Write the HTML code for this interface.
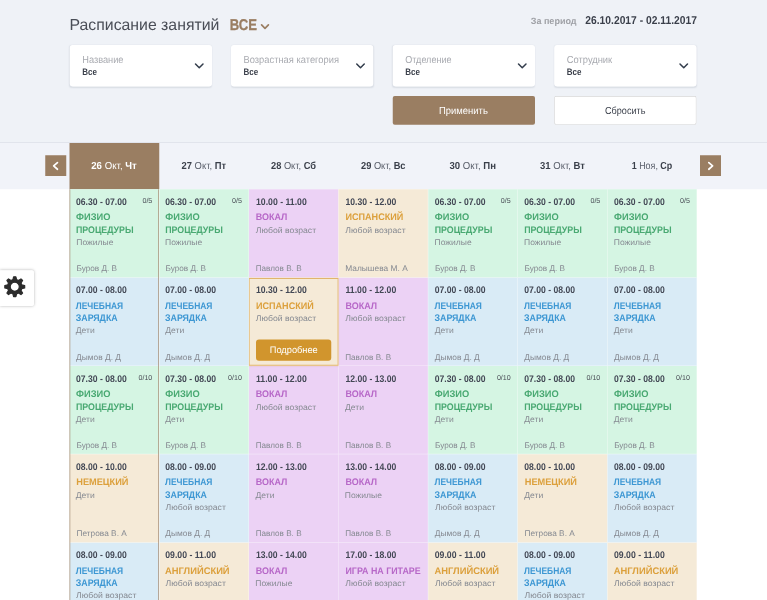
<!DOCTYPE html>
<html lang="ru"><head><meta charset="utf-8"><title>Расписание занятий</title>
<style>
html,body{margin:0;padding:0;width:767px;height:600px;overflow:hidden;background:#fff}
#wrap{position:absolute;left:0;top:0;width:767px;height:600px;overflow:hidden}
*{box-sizing:border-box;margin:0;padding:0}
body{font-family:"Liberation Sans","DejaVu Sans",sans-serif;color:#3a3f4a;text-rendering:geometricPrecision}
#page{position:relative;width:3068px;height:2400px;overflow:hidden;background:#fff}
.x{position:absolute;white-space:nowrap;transform-origin:0 50%;display:block}
.top{position:absolute;left:0;top:0;width:3068px;height:568.8px;background:#eff2f7}
.hline{position:absolute;left:0;top:568.8px;width:3068px;height:2.8px;background:#d9dde6}
.daysbar{position:absolute;left:0;top:571.6px;width:3068px;height:185.6px;background:#f1f3f9}
.title{color:#4a4e57}
.all{font-weight:700;color:#9a7e62;-webkit-text-stroke:1.2px #9a7e62}
.allarr{position:absolute;left:1040px;top:93.2px;width:40px;height:32px}
.perlab{font-weight:700;color:#9fa1a6}
.perval{font-weight:700;color:#3a3f4a}
.sel{position:absolute;top:180px;width:569.2px;height:165.6px;background:#fff;border-radius:12px;box-shadow:0 2.4px 6px rgba(60,70,100,.12)}
.sl{color:#a8aab0}
.sv{font-weight:700;color:#3a3f4a}
.sa{position:absolute;left:495.2px;top:69.2px;width:48px;height:32px}
.btn{position:absolute;top:383.6px;width:569.2px;height:115.4px;border-radius:8px}
.apply{left:1571px;background:#9a7e62;color:#fff}
.reset{left:2217.2px;background:#fff;box-shadow:inset 0 0 0 2.4px #c4c4c4;color:#3a3f4a}
.nav{position:absolute;top:620.6px;width:84px;height:83.6px;background:#9a7e62}
.prev{left:181.2px}.next{left:2800px}
.nav svg{display:block;width:84px;height:84px}
.day{position:absolute;top:571.6px;height:185.6px}
.day.act{background:#9a7e62;margin-left:-0.8px;padding-right:1.6px}
.dt{color:#5b606c}
.dt b{font-weight:700;color:#3a3f4a}
.da,.da b{color:#fff}
.c{position:absolute;width:358.4px;height:353.36px}
.c:after{content:"";position:absolute;left:0;top:0;right:0;bottom:0;border-right:2px solid rgba(255,255,255,.6);border-bottom:2px solid rgba(255,255,255,.6)}
.c.g{background:#d5f5e3}.c.b{background:#d9ebf6}.c.p{background:#ecd2f5}.c.o{background:#f5ead7}
.t{font-weight:700;color:#434855}
.n{position:absolute;right:28.4px;top:28.8px;font-size:28.4px;line-height:36px;color:#4a4e57;white-space:nowrap}
.nm{font-weight:700}
.g .nm{color:#49a972}.b .nm{color:#3d97d3}.p .nm{color:#b768c8}.o .nm{color:#dca03c}
.ag,.w{color:#858991}
.hov:before{content:"";position:absolute;left:-1.2px;top:1.6px;right:0.8px;bottom:1.2px;box-shadow:inset 0 0 0 3.6px #e2b56c,0 0 6px rgba(200,140,40,.35);z-index:2}
.more{position:absolute;left:28px;top:247.6px;width:301.4px;height:84.8px;background:#d1952d;border-radius:12px;color:#fff}
.actl{position:absolute;left:278.2px;top:757.2px;width:3px;height:1644px;background:#a8917a}
.actr{position:absolute;left:632.8px;top:757.2px;width:3px;height:1644px;background:#a8917a}
.gear{position:absolute;left:0;top:1080.8px;width:136px;height:142.8px;background:#fff;border-radius:0 8px 8px 0;box-shadow:0 0 12px rgba(0,0,0,.3)}
.gear svg{position:absolute;left:10.8px;top:18.6px;width:96px;height:96px}

#page{transform:scale(0.25);transform-origin:0 0}
</style></head>
<body>
<div id="wrap"><div id="page">
<div class="top"></div>
<div class="hline"></div>
<div class="daysbar"></div>
<span class="x title" style="left:278.4px;top:58.248px;font-size:63.6px;line-height:82.8px;transform:scaleX(0.995);">Расписание занятий</span>
<span class="x all" style="left:919px;top:59.248px;font-size:62.4px;line-height:81.2px;transform:scaleX(0.838);">ВСЕ</span>
<svg class="allarr" viewBox="0 0 10 8"><polyline points="1.6,1.7 5,5.1 8.4,1.7" fill="none" stroke="#9a7e62" stroke-width="1.7" stroke-linecap="round" stroke-linejoin="round"/></svg>
<span class="x perlab" style="left:2122.6px;top:60.248px;font-size:36.4px;line-height:47.2px;transform:scaleX(0.991);">За период</span>
<span class="x perval" style="left:2340.6px;top:51.248px;font-size:45.6px;line-height:59.2px;transform:scaleX(0.904);">26.10.2017 - 02.11.2017</span>
<div class="sel" style="left:279px"><span class="x sl" style="left:49.6px;top:32.248px;font-size:40.8px;line-height:53.2px;transform:scaleX(0.905);">Название</span><span class="x sv" style="left:49.6px;top:84.248px;font-size:38px;line-height:49.2px;transform:scaleX(0.838);">Все</span><svg class="sa" viewBox="0 0 12 8"><polyline points="2,1.8 5.75,5.55 9.5,1.8" fill="none" stroke="#333d4c" stroke-width="1.5" stroke-linecap="round" stroke-linejoin="round"/></svg></div>
<div class="sel" style="left:924px"><span class="x sl" style="left:49.6px;top:32.248px;font-size:40.8px;line-height:53.2px;transform:scaleX(0.916);">Возрастная категория</span><span class="x sv" style="left:49.6px;top:84.248px;font-size:38px;line-height:49.2px;transform:scaleX(0.838);">Все</span><svg class="sa" viewBox="0 0 12 8"><polyline points="2,1.8 5.75,5.55 9.5,1.8" fill="none" stroke="#333d4c" stroke-width="1.5" stroke-linecap="round" stroke-linejoin="round"/></svg></div>
<div class="sel" style="left:1571px"><span class="x sl" style="left:49.6px;top:32.248px;font-size:40.8px;line-height:53.2px;transform:scaleX(0.886);">Отделение</span><span class="x sv" style="left:49.6px;top:84.248px;font-size:38px;line-height:49.2px;transform:scaleX(0.838);">Все</span><svg class="sa" viewBox="0 0 12 8"><polyline points="2,1.8 5.75,5.55 9.5,1.8" fill="none" stroke="#333d4c" stroke-width="1.5" stroke-linecap="round" stroke-linejoin="round"/></svg></div>
<div class="sel" style="left:2217.2px"><span class="x sl" style="left:49.6px;top:32.248px;font-size:40.8px;line-height:53.2px;transform:scaleX(0.917);">Сотрудник</span><span class="x sv" style="left:49.6px;top:84.248px;font-size:38px;line-height:49.2px;transform:scaleX(0.838);">Все</span><svg class="sa" viewBox="0 0 12 8"><polyline points="2,1.8 5.75,5.55 9.5,1.8" fill="none" stroke="#333d4c" stroke-width="1.5" stroke-linecap="round" stroke-linejoin="round"/></svg></div>
<div class="btn apply"><span class="x bt" style="left:185.4px;top:32.648px;font-size:40.8px;line-height:53.2px;transform:scaleX(0.926);">Применить</span></div>
<div class="btn reset"><span class="x bt" style="left:203.2px;top:32.648px;font-size:40.8px;line-height:53.2px;transform:scaleX(0.891);">Сбросить</span></div>
<div class="nav prev"><svg viewBox="0 0 21 21"><polyline points="12.2,7.4 8.4,10.7 12.2,14" fill="none" stroke="#fff" stroke-width="1.7" stroke-linecap="round" stroke-linejoin="round"/></svg></div>
<div class="nav next"><svg viewBox="0 0 21 21"><polyline points="8.8,7.4 12.6,10.7 8.8,14" fill="none" stroke="#fff" stroke-width="1.7" stroke-linecap="round" stroke-linejoin="round"/></svg></div>
<div class="day act" style="left:279.2px;width:358.4px"></div><span class="x dt da" style="left:365px;top:636.25px;font-size:40.8px;line-height:53.2px;transform:scaleX(0.947)"><b>26</b> Окт, <b>Чт</b></span>
<div class="day" style="left:637.6px;width:358.4px"></div><span class="x dt" style="left:726px;top:636.25px;font-size:40.8px;line-height:53.2px;transform:scaleX(0.923)"><b>27</b> Окт, <b>Пт</b></span>
<div class="day" style="left:996px;width:358.4px"></div><span class="x dt" style="left:1084px;top:636.25px;font-size:40.8px;line-height:53.2px;transform:scaleX(0.910)"><b>28</b> Окт, <b>Сб</b></span>
<div class="day" style="left:1354.4px;width:358.4px"></div><span class="x dt" style="left:1443.8px;top:636.25px;font-size:40.8px;line-height:53.2px;transform:scaleX(0.909)"><b>29</b> Окт, <b>Вс</b></span>
<div class="day" style="left:1712.8px;width:358.4px"></div><span class="x dt" style="left:1798.2px;top:636.25px;font-size:40.8px;line-height:53.2px;transform:scaleX(0.941)"><b>30</b> Окт, <b>Пн</b></span>
<div class="day" style="left:2071.2px;width:358.4px"></div><span class="x dt" style="left:2159.6px;top:636.25px;font-size:40.8px;line-height:53.2px;transform:scaleX(0.935)"><b>31</b> Окт, <b>Вт</b></span>
<div class="day" style="left:2429.6px;width:358.4px"></div><span class="x dt" style="left:2527px;top:636.25px;font-size:40.8px;line-height:53.2px;transform:scaleX(0.874)"><b>1</b> Ноя, <b>Ср</b></span>
<div class="grid">
<div class="c g" style="left:279.2px;top:757.2px"><span class="x t" style="left:24.6px;top:26.048px;font-size:38.4px;line-height:50px;transform:scaleX(0.898);">06.30 - 07.00</span><span class="n">0/5</span><span class="x nm" style="left:24.4px;top:86.048px;font-size:38.4px;line-height:50px;transform:scaleX(0.970);">ФИЗИО</span><span class="x nm" style="left:24.4px;top:138.05px;font-size:38.4px;line-height:50px;transform:scaleX(0.917);">ПРОЦЕДУРЫ</span><span class="x ag" style="left:26.2px;top:191.05px;font-size:32.8px;line-height:42.8px;transform:scaleX(1.044);">Пожилые</span><span class="x w" style="left:26.6px;top:295.05px;font-size:32.8px;line-height:42.8px;">Буров Д. В</span></div>
<div class="c b" style="left:279.2px;top:1110.6px"><span class="x t" style="left:24.6px;top:24.692px;font-size:38.4px;line-height:50px;transform:scaleX(0.898);">07.00 - 08.00</span><span class="x nm" style="left:23.6px;top:88.692px;font-size:38.4px;line-height:50px;transform:scaleX(0.879);">ЛЕЧЕБНАЯ</span><span class="x nm" style="left:23.6px;top:136.69px;font-size:38.4px;line-height:50px;transform:scaleX(0.918);">ЗАРЯДКА</span><span class="x ag" style="left:24.2px;top:189.69px;font-size:32.8px;line-height:42.8px;transform:scaleX(1.045);">Дети</span><span class="x w" style="left:24.6px;top:297.69px;font-size:32.8px;line-height:42.8px;transform:scaleX(1.024);">Дымов Д. Д</span></div>
<div class="c g" style="left:279.2px;top:1463.9px"><span class="x t" style="left:24.6px;top:27.328px;font-size:38.4px;line-height:50px;transform:scaleX(0.898);">07.30 - 08.00</span><span class="n">0/10</span><span class="x nm" style="left:24.4px;top:87.328px;font-size:38.4px;line-height:50px;transform:scaleX(0.970);">ФИЗИО</span><span class="x nm" style="left:24.4px;top:139.33px;font-size:38.4px;line-height:50px;transform:scaleX(0.917);">ПРОЦЕДУРЫ</span><span class="x ag" style="left:24.2px;top:192.33px;font-size:32.8px;line-height:42.8px;transform:scaleX(1.045);">Дети</span><span class="x w" style="left:26.6px;top:296.33px;font-size:32.8px;line-height:42.8px;">Буров Д. В</span></div>
<div class="c o" style="left:279.2px;top:1817.3px"><span class="x t" style="left:24.6px;top:25.972px;font-size:38.4px;line-height:50px;transform:scaleX(0.898);">08.00 - 10.00</span><span class="x nm" style="left:26px;top:85.972px;font-size:38.4px;line-height:50px;transform:scaleX(0.959);">НЕМЕЦКИЙ</span><span class="x ag" style="left:24.2px;top:142.97px;font-size:32.8px;line-height:42.8px;transform:scaleX(1.045);">Дети</span><span class="x w" style="left:26.6px;top:294.97px;font-size:32.8px;line-height:42.8px;transform:scaleX(1.013);">Петрова В. А</span></div>
<div class="c b" style="left:279.2px;top:2170.6px"><span class="x t" style="left:24.6px;top:24.608px;font-size:38.4px;line-height:50px;transform:scaleX(0.898);">08.00 - 09.00</span><span class="x nm" style="left:23.6px;top:88.608px;font-size:38.4px;line-height:50px;transform:scaleX(0.879);">ЛЕЧЕБНАЯ</span><span class="x nm" style="left:23.6px;top:136.61px;font-size:38.4px;line-height:50px;transform:scaleX(0.918);">ЗАРЯДКА</span><span class="x ag" style="left:25.2px;top:189.61px;font-size:32.8px;line-height:42.8px;transform:scaleX(1.058);">Любой возраст</span><span class="x w" style="left:24.6px;top:297.61px;font-size:32.8px;line-height:42.8px;transform:scaleX(1.024);">Дымов Д. Д</span></div>
<div class="c g" style="left:637.6px;top:757.2px"><span class="x t" style="left:23.8px;top:26.048px;font-size:38.4px;line-height:50px;transform:scaleX(0.898);">06.30 - 07.00</span><span class="n">0/5</span><span class="x nm" style="left:23.6px;top:86.048px;font-size:38.4px;line-height:50px;transform:scaleX(0.970);">ФИЗИО</span><span class="x nm" style="left:23.6px;top:138.05px;font-size:38.4px;line-height:50px;transform:scaleX(0.917);">ПРОЦЕДУРЫ</span><span class="x ag" style="left:22.6px;top:191.05px;font-size:32.8px;line-height:42.8px;transform:scaleX(1.044);">Пожилые</span><span class="x w" style="left:24.6px;top:295.05px;font-size:32.8px;line-height:42.8px;">Буров Д. В</span></div>
<div class="c b" style="left:637.6px;top:1110.6px"><span class="x t" style="left:23.8px;top:24.692px;font-size:38.4px;line-height:50px;transform:scaleX(0.898);">07.00 - 08.00</span><span class="x nm" style="left:22.8px;top:88.692px;font-size:38.4px;line-height:50px;transform:scaleX(0.879);">ЛЕЧЕБНАЯ</span><span class="x nm" style="left:22.8px;top:136.69px;font-size:38.4px;line-height:50px;transform:scaleX(0.918);">ЗАРЯДКА</span><span class="x ag" style="left:23.4px;top:189.69px;font-size:32.8px;line-height:42.8px;transform:scaleX(1.045);">Дети</span><span class="x w" style="left:23.8px;top:297.69px;font-size:32.8px;line-height:42.8px;transform:scaleX(1.024);">Дымов Д. Д</span></div>
<div class="c g" style="left:637.6px;top:1463.9px"><span class="x t" style="left:23.8px;top:27.328px;font-size:38.4px;line-height:50px;transform:scaleX(0.898);">07.30 - 08.00</span><span class="n">0/10</span><span class="x nm" style="left:23.6px;top:87.328px;font-size:38.4px;line-height:50px;transform:scaleX(0.970);">ФИЗИО</span><span class="x nm" style="left:23.6px;top:139.33px;font-size:38.4px;line-height:50px;transform:scaleX(0.917);">ПРОЦЕДУРЫ</span><span class="x ag" style="left:23.4px;top:192.33px;font-size:32.8px;line-height:42.8px;transform:scaleX(1.045);">Дети</span><span class="x w" style="left:24.6px;top:296.33px;font-size:32.8px;line-height:42.8px;">Буров Д. В</span></div>
<div class="c b" style="left:637.6px;top:1817.3px"><span class="x t" style="left:23.8px;top:25.972px;font-size:38.4px;line-height:50px;transform:scaleX(0.898);">08.00 - 09.00</span><span class="x nm" style="left:22.8px;top:85.972px;font-size:38.4px;line-height:50px;transform:scaleX(0.879);">ЛЕЧЕБНАЯ</span><span class="x nm" style="left:22.8px;top:137.97px;font-size:38.4px;line-height:50px;transform:scaleX(0.918);">ЗАРЯДКА</span><span class="x ag" style="left:24.4px;top:190.97px;font-size:32.8px;line-height:42.8px;transform:scaleX(1.058);">Любой возраст</span><span class="x w" style="left:23.8px;top:294.97px;font-size:32.8px;line-height:42.8px;transform:scaleX(1.024);">Дымов Д. Д</span></div>
<div class="c o" style="left:637.6px;top:2170.6px"><span class="x t" style="left:23.8px;top:24.608px;font-size:38.4px;line-height:50px;transform:scaleX(0.906);">09.00 - 11.00</span><span class="x nm" style="left:22.8px;top:88.608px;font-size:38.4px;line-height:50px;transform:scaleX(0.976);">АНГЛИЙСКИЙ</span><span class="x ag" style="left:24.4px;top:141.61px;font-size:32.8px;line-height:42.8px;transform:scaleX(1.058);">Любой возраст</span></div>
<div class="c p" style="left:996px;top:757.2px"><span class="x t" style="left:27.6px;top:26.048px;font-size:38.4px;line-height:50px;transform:scaleX(0.906);">10.00 - 11.00</span><span class="x nm" style="left:27.2px;top:86.048px;font-size:38.4px;line-height:50px;transform:scaleX(0.932);">ВОКАЛ</span><span class="x ag" style="left:26.8px;top:143.05px;font-size:32.8px;line-height:42.8px;transform:scaleX(1.058);">Любой возраст</span><span class="x w" style="left:27px;top:295.05px;font-size:32.8px;line-height:42.8px;transform:scaleX(0.992);">Павлов В. В</span></div>
<div class="c o hov" style="left:996px;top:1110.6px"><span class="x t" style="left:27.6px;top:24.692px;font-size:38.4px;line-height:50px;transform:scaleX(0.898);">10.30 - 12.00</span><span class="x nm" style="left:27.6px;top:88.692px;font-size:38.4px;line-height:50px;transform:scaleX(0.944);">ИСПАНСКИЙ</span><span class="x ag" style="left:26.8px;top:141.69px;font-size:32.8px;line-height:42.8px;transform:scaleX(1.058);">Любой возраст</span><span class="more"><span class="x bt" style="left:55.2px;top:17.092px;font-size:38.4px;line-height:50px;transform:scaleX(0.964);">Подробнее</span></span></div>
<div class="c p" style="left:996px;top:1463.9px"><span class="x t" style="left:27.6px;top:27.328px;font-size:38.4px;line-height:50px;transform:scaleX(0.906);">11.00 - 12.00</span><span class="x nm" style="left:27.2px;top:87.328px;font-size:38.4px;line-height:50px;transform:scaleX(0.932);">ВОКАЛ</span><span class="x ag" style="left:26.8px;top:144.33px;font-size:32.8px;line-height:42.8px;transform:scaleX(1.058);">Любой возраст</span><span class="x w" style="left:27px;top:296.33px;font-size:32.8px;line-height:42.8px;transform:scaleX(0.992);">Павлов В. В</span></div>
<div class="c p" style="left:996px;top:1817.3px"><span class="x t" style="left:27.6px;top:25.972px;font-size:38.4px;line-height:50px;transform:scaleX(0.898);">12.00 - 13.00</span><span class="x nm" style="left:27.2px;top:85.972px;font-size:38.4px;line-height:50px;transform:scaleX(0.932);">ВОКАЛ</span><span class="x ag" style="left:25.8px;top:142.97px;font-size:32.8px;line-height:42.8px;transform:scaleX(1.045);">Дети</span><span class="x w" style="left:27px;top:294.97px;font-size:32.8px;line-height:42.8px;transform:scaleX(0.992);">Павлов В. В</span></div>
<div class="c p" style="left:996px;top:2170.6px"><span class="x t" style="left:27.6px;top:24.608px;font-size:38.4px;line-height:50px;transform:scaleX(0.898);">13.00 - 14.00</span><span class="x nm" style="left:27.2px;top:88.608px;font-size:38.4px;line-height:50px;transform:scaleX(0.932);">ВОКАЛ</span><span class="x ag" style="left:25px;top:141.61px;font-size:32.8px;line-height:42.8px;transform:scaleX(1.044);">Пожилые</span><span class="x w" style="left:27px;top:297.61px;font-size:32.8px;line-height:42.8px;transform:scaleX(0.992);">Павлов В. В</span></div>
<div class="c o" style="left:1354.4px;top:757.2px"><span class="x t" style="left:27.6px;top:26.048px;font-size:38.4px;line-height:50px;transform:scaleX(0.898);">10.30 - 12.00</span><span class="x nm" style="left:27.6px;top:86.048px;font-size:38.4px;line-height:50px;transform:scaleX(0.944);">ИСПАНСКИЙ</span><span class="x ag" style="left:26.8px;top:143.05px;font-size:32.8px;line-height:42.8px;transform:scaleX(1.058);">Любой возраст</span><span class="x w" style="left:27px;top:295.05px;font-size:32.8px;line-height:42.8px;transform:scaleX(1.020);">Малышева М. А</span></div>
<div class="c p" style="left:1354.4px;top:1110.6px"><span class="x t" style="left:27.6px;top:24.692px;font-size:38.4px;line-height:50px;transform:scaleX(0.906);">11.00 - 12.00</span><span class="x nm" style="left:27.2px;top:88.692px;font-size:38.4px;line-height:50px;transform:scaleX(0.932);">ВОКАЛ</span><span class="x ag" style="left:26.8px;top:141.69px;font-size:32.8px;line-height:42.8px;transform:scaleX(1.058);">Любой возраст</span><span class="x w" style="left:27px;top:297.69px;font-size:32.8px;line-height:42.8px;transform:scaleX(0.992);">Павлов В. В</span></div>
<div class="c p" style="left:1354.4px;top:1463.9px"><span class="x t" style="left:27.6px;top:27.328px;font-size:38.4px;line-height:50px;transform:scaleX(0.898);">12.00 - 13.00</span><span class="x nm" style="left:27.2px;top:87.328px;font-size:38.4px;line-height:50px;transform:scaleX(0.932);">ВОКАЛ</span><span class="x ag" style="left:25.8px;top:144.33px;font-size:32.8px;line-height:42.8px;transform:scaleX(1.045);">Дети</span><span class="x w" style="left:27px;top:296.33px;font-size:32.8px;line-height:42.8px;transform:scaleX(0.992);">Павлов В. В</span></div>
<div class="c p" style="left:1354.4px;top:1817.3px"><span class="x t" style="left:27.6px;top:25.972px;font-size:38.4px;line-height:50px;transform:scaleX(0.898);">13.00 - 14.00</span><span class="x nm" style="left:27.2px;top:85.972px;font-size:38.4px;line-height:50px;transform:scaleX(0.932);">ВОКАЛ</span><span class="x ag" style="left:25px;top:142.97px;font-size:32.8px;line-height:42.8px;transform:scaleX(1.044);">Пожилые</span><span class="x w" style="left:27px;top:294.97px;font-size:32.8px;line-height:42.8px;transform:scaleX(0.992);">Павлов В. В</span></div>
<div class="c p" style="left:1354.4px;top:2170.6px"><span class="x t" style="left:27.6px;top:24.608px;font-size:38.4px;line-height:50px;transform:scaleX(0.898);">17.00 - 18.00</span><span class="x nm" style="left:27.6px;top:88.608px;font-size:38.4px;line-height:50px;transform:scaleX(0.924);">ИГРА НА ГИТАРЕ</span><span class="x ag" style="left:26.8px;top:141.61px;font-size:32.8px;line-height:42.8px;transform:scaleX(1.058);">Любой возраст</span></div>
<div class="c g" style="left:1712.8px;top:757.2px"><span class="x t" style="left:26.2px;top:26.048px;font-size:38.4px;line-height:50px;transform:scaleX(0.898);">06.30 - 07.00</span><span class="n">0/5</span><span class="x nm" style="left:26px;top:86.048px;font-size:38.4px;line-height:50px;transform:scaleX(0.970);">ФИЗИО</span><span class="x nm" style="left:26px;top:138.05px;font-size:38.4px;line-height:50px;transform:scaleX(0.917);">ПРОЦЕДУРЫ</span><span class="x ag" style="left:25px;top:191.05px;font-size:32.8px;line-height:42.8px;transform:scaleX(1.044);">Пожилые</span><span class="x w" style="left:27px;top:295.05px;font-size:32.8px;line-height:42.8px;">Буров Д. В</span></div>
<div class="c b" style="left:1712.8px;top:1110.6px"><span class="x t" style="left:26.2px;top:24.692px;font-size:38.4px;line-height:50px;transform:scaleX(0.898);">07.00 - 08.00</span><span class="x nm" style="left:25.2px;top:88.692px;font-size:38.4px;line-height:50px;transform:scaleX(0.879);">ЛЕЧЕБНАЯ</span><span class="x nm" style="left:25.2px;top:136.69px;font-size:38.4px;line-height:50px;transform:scaleX(0.918);">ЗАРЯДКА</span><span class="x ag" style="left:25.8px;top:189.69px;font-size:32.8px;line-height:42.8px;transform:scaleX(1.045);">Дети</span><span class="x w" style="left:26.2px;top:297.69px;font-size:32.8px;line-height:42.8px;transform:scaleX(1.024);">Дымов Д. Д</span></div>
<div class="c g" style="left:1712.8px;top:1463.9px"><span class="x t" style="left:26.2px;top:27.328px;font-size:38.4px;line-height:50px;transform:scaleX(0.898);">07.30 - 08.00</span><span class="n">0/10</span><span class="x nm" style="left:26px;top:87.328px;font-size:38.4px;line-height:50px;transform:scaleX(0.970);">ФИЗИО</span><span class="x nm" style="left:26px;top:139.33px;font-size:38.4px;line-height:50px;transform:scaleX(0.917);">ПРОЦЕДУРЫ</span><span class="x ag" style="left:25.8px;top:192.33px;font-size:32.8px;line-height:42.8px;transform:scaleX(1.045);">Дети</span><span class="x w" style="left:27px;top:296.33px;font-size:32.8px;line-height:42.8px;">Буров Д. В</span></div>
<div class="c b" style="left:1712.8px;top:1817.3px"><span class="x t" style="left:26.2px;top:25.972px;font-size:38.4px;line-height:50px;transform:scaleX(0.898);">08.00 - 09.00</span><span class="x nm" style="left:25.2px;top:85.972px;font-size:38.4px;line-height:50px;transform:scaleX(0.879);">ЛЕЧЕБНАЯ</span><span class="x nm" style="left:25.2px;top:137.97px;font-size:38.4px;line-height:50px;transform:scaleX(0.918);">ЗАРЯДКА</span><span class="x ag" style="left:26.8px;top:190.97px;font-size:32.8px;line-height:42.8px;transform:scaleX(1.058);">Любой возраст</span><span class="x w" style="left:26.2px;top:294.97px;font-size:32.8px;line-height:42.8px;transform:scaleX(1.024);">Дымов Д. Д</span></div>
<div class="c o" style="left:1712.8px;top:2170.6px"><span class="x t" style="left:26.2px;top:24.608px;font-size:38.4px;line-height:50px;transform:scaleX(0.906);">09.00 - 11.00</span><span class="x nm" style="left:25.2px;top:88.608px;font-size:38.4px;line-height:50px;transform:scaleX(0.976);">АНГЛИЙСКИЙ</span><span class="x ag" style="left:26.8px;top:141.61px;font-size:32.8px;line-height:42.8px;transform:scaleX(1.058);">Любой возраст</span></div>
<div class="c g" style="left:2071.2px;top:757.2px"><span class="x t" style="left:26.2px;top:26.048px;font-size:38.4px;line-height:50px;transform:scaleX(0.898);">06.30 - 07.00</span><span class="n">0/5</span><span class="x nm" style="left:26px;top:86.048px;font-size:38.4px;line-height:50px;transform:scaleX(0.970);">ФИЗИО</span><span class="x nm" style="left:26px;top:138.05px;font-size:38.4px;line-height:50px;transform:scaleX(0.917);">ПРОЦЕДУРЫ</span><span class="x ag" style="left:25px;top:191.05px;font-size:32.8px;line-height:42.8px;transform:scaleX(1.044);">Пожилые</span><span class="x w" style="left:27px;top:295.05px;font-size:32.8px;line-height:42.8px;">Буров Д. В</span></div>
<div class="c b" style="left:2071.2px;top:1110.6px"><span class="x t" style="left:26.2px;top:24.692px;font-size:38.4px;line-height:50px;transform:scaleX(0.898);">07.00 - 08.00</span><span class="x nm" style="left:25.2px;top:88.692px;font-size:38.4px;line-height:50px;transform:scaleX(0.879);">ЛЕЧЕБНАЯ</span><span class="x nm" style="left:25.2px;top:136.69px;font-size:38.4px;line-height:50px;transform:scaleX(0.918);">ЗАРЯДКА</span><span class="x ag" style="left:25.8px;top:189.69px;font-size:32.8px;line-height:42.8px;transform:scaleX(1.045);">Дети</span><span class="x w" style="left:26.2px;top:297.69px;font-size:32.8px;line-height:42.8px;transform:scaleX(1.024);">Дымов Д. Д</span></div>
<div class="c g" style="left:2071.2px;top:1463.9px"><span class="x t" style="left:26.2px;top:27.328px;font-size:38.4px;line-height:50px;transform:scaleX(0.898);">07.30 - 08.00</span><span class="n">0/10</span><span class="x nm" style="left:26px;top:87.328px;font-size:38.4px;line-height:50px;transform:scaleX(0.970);">ФИЗИО</span><span class="x nm" style="left:26px;top:139.33px;font-size:38.4px;line-height:50px;transform:scaleX(0.917);">ПРОЦЕДУРЫ</span><span class="x ag" style="left:25.8px;top:192.33px;font-size:32.8px;line-height:42.8px;transform:scaleX(1.045);">Дети</span><span class="x w" style="left:27px;top:296.33px;font-size:32.8px;line-height:42.8px;">Буров Д. В</span></div>
<div class="c o" style="left:2071.2px;top:1817.3px"><span class="x t" style="left:26.2px;top:25.972px;font-size:38.4px;line-height:50px;transform:scaleX(0.898);">08.00 - 10.00</span><span class="x nm" style="left:27.6px;top:85.972px;font-size:38.4px;line-height:50px;transform:scaleX(0.959);">НЕМЕЦКИЙ</span><span class="x ag" style="left:25.8px;top:142.97px;font-size:32.8px;line-height:42.8px;transform:scaleX(1.045);">Дети</span><span class="x w" style="left:27px;top:294.97px;font-size:32.8px;line-height:42.8px;transform:scaleX(1.013);">Петрова В. А</span></div>
<div class="c b" style="left:2071.2px;top:2170.6px"><span class="x t" style="left:26.2px;top:24.608px;font-size:38.4px;line-height:50px;transform:scaleX(0.898);">08.00 - 09.00</span><span class="x nm" style="left:25.2px;top:88.608px;font-size:38.4px;line-height:50px;transform:scaleX(0.879);">ЛЕЧЕБНАЯ</span><span class="x nm" style="left:25.2px;top:136.61px;font-size:38.4px;line-height:50px;transform:scaleX(0.918);">ЗАРЯДКА</span><span class="x ag" style="left:26.8px;top:189.61px;font-size:32.8px;line-height:42.8px;transform:scaleX(1.058);">Любой возраст</span><span class="x w" style="left:26.2px;top:297.61px;font-size:32.8px;line-height:42.8px;transform:scaleX(1.024);">Дымов Д. Д</span></div>
<div class="c g" style="left:2429.6px;top:757.2px"><span class="x t" style="left:26.2px;top:26.048px;font-size:38.4px;line-height:50px;transform:scaleX(0.898);">06.30 - 07.00</span><span class="n">0/5</span><span class="x nm" style="left:26px;top:86.048px;font-size:38.4px;line-height:50px;transform:scaleX(0.970);">ФИЗИО</span><span class="x nm" style="left:26px;top:138.05px;font-size:38.4px;line-height:50px;transform:scaleX(0.917);">ПРОЦЕДУРЫ</span><span class="x ag" style="left:25px;top:191.05px;font-size:32.8px;line-height:42.8px;transform:scaleX(1.044);">Пожилые</span><span class="x w" style="left:27px;top:295.05px;font-size:32.8px;line-height:42.8px;">Буров Д. В</span></div>
<div class="c b" style="left:2429.6px;top:1110.6px"><span class="x t" style="left:26.2px;top:24.692px;font-size:38.4px;line-height:50px;transform:scaleX(0.898);">07.00 - 08.00</span><span class="x nm" style="left:25.2px;top:88.692px;font-size:38.4px;line-height:50px;transform:scaleX(0.879);">ЛЕЧЕБНАЯ</span><span class="x nm" style="left:25.2px;top:136.69px;font-size:38.4px;line-height:50px;transform:scaleX(0.918);">ЗАРЯДКА</span><span class="x ag" style="left:25.8px;top:189.69px;font-size:32.8px;line-height:42.8px;transform:scaleX(1.045);">Дети</span><span class="x w" style="left:26.2px;top:297.69px;font-size:32.8px;line-height:42.8px;transform:scaleX(1.024);">Дымов Д. Д</span></div>
<div class="c g" style="left:2429.6px;top:1463.9px"><span class="x t" style="left:26.2px;top:27.328px;font-size:38.4px;line-height:50px;transform:scaleX(0.898);">07.30 - 08.00</span><span class="n">0/10</span><span class="x nm" style="left:26px;top:87.328px;font-size:38.4px;line-height:50px;transform:scaleX(0.970);">ФИЗИО</span><span class="x nm" style="left:26px;top:139.33px;font-size:38.4px;line-height:50px;transform:scaleX(0.917);">ПРОЦЕДУРЫ</span><span class="x ag" style="left:25.8px;top:192.33px;font-size:32.8px;line-height:42.8px;transform:scaleX(1.045);">Дети</span><span class="x w" style="left:27px;top:296.33px;font-size:32.8px;line-height:42.8px;">Буров Д. В</span></div>
<div class="c b" style="left:2429.6px;top:1817.3px"><span class="x t" style="left:26.2px;top:25.972px;font-size:38.4px;line-height:50px;transform:scaleX(0.898);">08.00 - 09.00</span><span class="x nm" style="left:25.2px;top:85.972px;font-size:38.4px;line-height:50px;transform:scaleX(0.879);">ЛЕЧЕБНАЯ</span><span class="x nm" style="left:25.2px;top:137.97px;font-size:38.4px;line-height:50px;transform:scaleX(0.918);">ЗАРЯДКА</span><span class="x ag" style="left:26.8px;top:190.97px;font-size:32.8px;line-height:42.8px;transform:scaleX(1.058);">Любой возраст</span><span class="x w" style="left:26.2px;top:294.97px;font-size:32.8px;line-height:42.8px;transform:scaleX(1.024);">Дымов Д. Д</span></div>
<div class="c o" style="left:2429.6px;top:2170.6px"><span class="x t" style="left:26.2px;top:24.608px;font-size:38.4px;line-height:50px;transform:scaleX(0.906);">09.00 - 11.00</span><span class="x nm" style="left:25.2px;top:88.608px;font-size:38.4px;line-height:50px;transform:scaleX(0.976);">АНГЛИЙСКИЙ</span><span class="x ag" style="left:26.8px;top:141.61px;font-size:32.8px;line-height:42.8px;transform:scaleX(1.058);">Любой возраст</span></div>
</div>
<div class="actl"></div><div class="actr"></div>
<div class="gear"><svg viewBox="0 0 24 24"><path fill="#2c2c2c" fill-rule="evenodd" stroke="#2c2c2c" stroke-width="1.2" stroke-linejoin="round" d="M10.20,4.93 L10.85,2.07 L13.15,2.07 L13.80,4.93 L15.73,5.72 L18.21,4.16 L19.84,5.79 L18.28,8.27 L19.07,10.20 L21.93,10.85 L21.93,13.15 L19.07,13.80 L18.28,15.73 L19.84,18.21 L18.21,19.84 L15.73,18.28 L13.80,19.07 L13.15,21.93 L10.85,21.93 L10.20,19.07 L8.27,18.28 L5.79,19.84 L4.16,18.21 L5.72,15.73 L4.93,13.80 L2.07,13.15 L2.07,10.85 L4.93,10.20 L5.72,8.27 L4.16,5.79 L5.79,4.16 L8.27,5.72Z M16.55,12.00 A4.55,4.55 0 1,0 7.45,12.00 A4.55,4.55 0 1,0 16.55,12.00Z"/></svg></div>
</div></div>
</body></html>
